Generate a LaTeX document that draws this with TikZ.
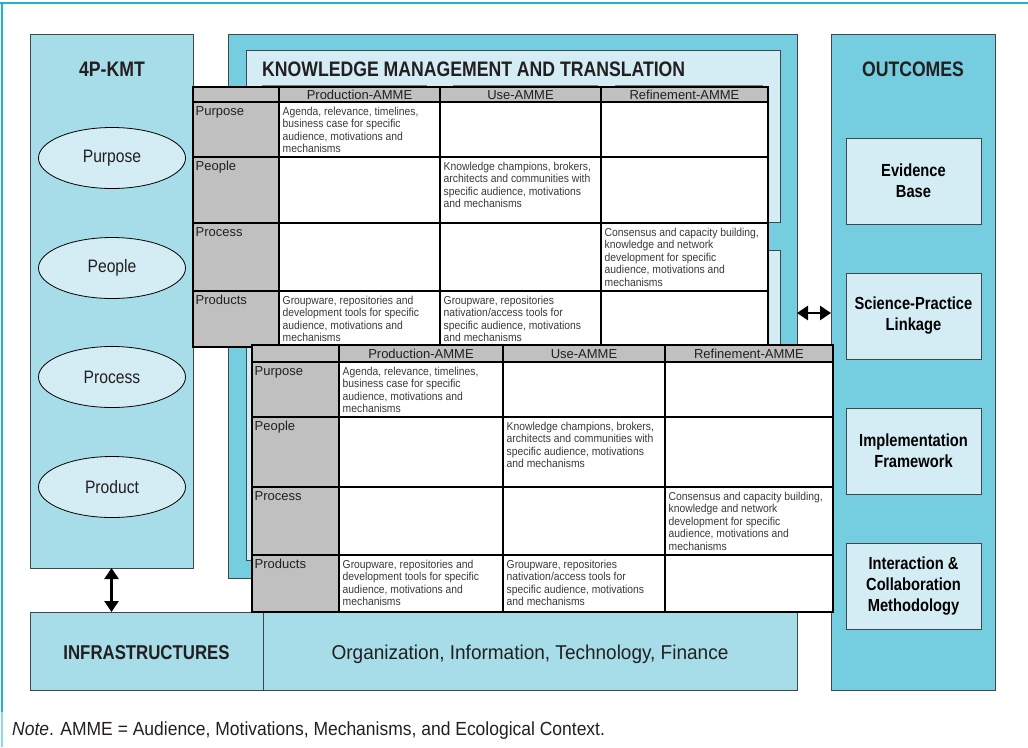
\documentclass[tikz,border=0pt]{standalone}
\usepackage{fontspec}
\setmainfont{Liberation Sans}
\newfontfamily\fbold{Liberation Sans}[FakeStretch=0.84]
\newfontfamily\fcell{Liberation Sans}[FakeStretch=0.9]
\newfontfamily\fell{Liberation Sans}[FakeStretch=0.87]
\newfontfamily\fnote{Liberation Sans}[FakeStretch=0.92]
\newfontfamily\forg{Liberation Sans}[FakeStretch=0.95]
\usetikzlibrary{arrows.meta,shapes.geometric}
\definecolor{frameC}{HTML}{1AB6CF}
\definecolor{frameL}{HTML}{8FD9E6}
\definecolor{darkC}{HTML}{74CEDF}
\definecolor{midC}{HTML}{A6DDE8}
\definecolor{paleC}{HTML}{D4EDF4}
\definecolor{cellG}{HTML}{C0C0C0}
\definecolor{txt}{HTML}{231F20}
\definecolor{celltxt}{HTML}{3A3A3A}
\definecolor{edgeC}{HTML}{3E4749}
\tikzset{
  panel/.style={draw=edgeC, line width=0.9pt, anchor=north west, inner sep=0pt, outer sep=0pt},
  ttl/.style={font=\fbold\bfseries\fontsize{21}{24}\selectfont, text=txt, inner sep=0pt},
  ell/.style={ellipse, draw=black, line width=0.8pt, fill=paleC, minimum width=147pt, minimum height=61pt, inner sep=0pt, font=\fell\fontsize{18}{20}\selectfont, text=txt},
  obox/.style={draw=edgeC, line width=0.9pt, fill=paleC, minimum width=135pt, minimum height=86pt, inner sep=0pt, align=center, font=\fbold\bfseries\fontsize{17.5}{21}\selectfont, text=black},
  dbl/.style={line width=2.6pt, {Triangle[length=11pt,width=14pt]}-{Triangle[length=11pt,width=14pt]}},
  grid/.style={line width=1.8pt, black},
  hdr/.style={font=\fontsize{13}{15}\selectfont, text=txt, inner sep=0pt},
  rowlab/.style={anchor=north west, inner xsep=2.5pt, inner ysep=4pt, font=\fontsize{13}{15}\selectfont, text=txt},
  cell/.style={anchor=north west, inner xsep=3.5pt, inner ysep=4.5pt, align=left, font=\fcell\fontsize{11.5}{12.5}\selectfont, text=celltxt},
}
\newcommand\kmtab[1]{%
  \fill[white] (\xa,\ya) rectangle (\xe,\yf);
  \fill[cellG] (\xa,\ya) rectangle (\xe,\yb);
  \fill[cellG] (\xa,\yb) rectangle (\xb,\yf);
  \draw[grid] (\xa,\ya) rectangle (\xe,\yf);
  \foreach \v in {\xb,\xc,\xd} {\draw[grid] (\v,\ya) -- (\v,\yf);}
  \foreach \h in {\yb,\yc,\yd,\ye} {\draw[grid] (\xa,\h) -- (\xe,\h);}
  \node[hdr] (#1h1) at ({(\xb+\xc)/2},{(\ya+\yb)/2+0.5}) {Production-AMME};
  \node[hdr] (#1h2) at ({(\xc+\xd)/2},{(\ya+\yb)/2+0.5}) {Use-AMME};
  \node[hdr] (#1h3) at ({(\xd+\xe)/2},{(\ya+\yb)/2+0.5}) {Refinement-AMME};
  \node[rowlab] (#1r1) at (\xa,\yb) {Purpose};
  \node[rowlab] (#1r2) at (\xa,\yc) {People};
  \node[rowlab] (#1r3) at (\xa,\yd) {Process};
  \node[rowlab] (#1r4) at (\xa,\ye) {Products};
  \node[cell] (#1c11) at (\xb,\yb) {Agenda, relevance, timelines,\\business case for specific\\audience, motivations and\\mechanisms};
  \node[cell] (#1c22) at (\xc,\yc) {Knowledge champions, brokers,\\architects and communities with\\specific audience, motivations\\and mechanisms};
  \node[cell] (#1c33) at (\xd,\yd) {Consensus and capacity building,\\knowledge and network\\development for specific\\audience, motivations and\\mechanisms};
  \node[cell] (#1c41) at (\xb,\ye) {Groupware, repositories and\\development tools for specific\\audience, motivations and\\mechanisms};
  \node[cell] (#1c42) at (\xc,\ye) {Groupware, repositories\\nativation/access tools for\\specific audience, motivations\\and mechanisms};
}
\begin{document}
\begin{tikzpicture}[x=1pt,y=-1pt]
\useasboundingbox (0,0) rectangle (1028,747);
% outer frame lines
\draw[frameC, line width=2pt] (0,3) -- (1028,3);
\draw[frameC, line width=2pt] (2,2) -- (2,712);
\draw[frameL, line width=2pt] (2,712) -- (2,747);
% 4P-KMT
\node[panel, fill=midC, minimum width=163pt, minimum height=534pt] (p4) at (30,34) {};
\node[ttl] (p4t) at (112,69) {4P-KMT};
\node[ell] (e1) at (112,158) {Purpose};
\node[ell] (e2) at (112,268) {People};
\node[ell] (e3) at (112,377) {Process};
\node[ell] (e4) at (112,487) {Product};
% KMT panel
\node[panel, fill=darkC, minimum width=569pt, minimum height=544pt] (kmt) at (228,34) {};
\node[panel, fill=paleC, minimum width=534pt, minimum height=172pt] (kin1) at (246,50) {};
\node[panel, fill=paleC, minimum width=534pt, minimum height=310pt] (kin2) at (246,250) {};
\node[ttl, anchor=west] (kmtt) at (262,69) {KNOWLEDGE MANAGEMENT AND TRANSLATION};
\draw[edgeC!70, line width=0.8pt] (262,85) -- (427,85) (453,85) -- (598,85) (615,85) -- (763,85);
% outcomes
\node[panel, fill=darkC, minimum width=164pt, minimum height=656pt] (out) at (831,34) {};
\node[ttl] (outt) at (913,69) {OUTCOMES};
\node[obox] (o1) at (913.5,181) {Evidence\\Base};
\node[obox] (o2) at (913.5,316) {Science-Practice\\Linkage};
\node[obox] (o3) at (913.5,451) {Implementation\\Framework};
\node[obox] (o4) at (913.5,586.5) {Interaction \&\\Collaboration\\Methodology};
% infrastructures
\node[panel, fill=midC, minimum width=233pt, minimum height=78pt] (infL) at (30,612) {};
\node[panel, fill=midC, minimum width=534pt, minimum height=78pt] (infR) at (263,612) {};
\node[inner sep=0pt, font=\fbold\bfseries\fontsize{20}{24}\selectfont, text=txt] (infLt) at ([yshift=-2pt]infL.center) {INFRASTRUCTURES};
\node[inner sep=0pt, font=\forg\fontsize{20}{24}\selectfont, text=txt] (infRt) at ([yshift=-3.5pt]infR.center) {Organization, Information, Technology, Finance};
% arrows
\coordinate (ay) at (0,313);
\draw[dbl] (kmt.east |- ay) -- (out.west |- ay);
\draw[dbl] (p4.south) -- (p4.south |- infL.north);
% table 1
\def\xa{193}\def\xb{279}\def\xc{440}\def\xd{601}\def\xe{768}
\def\ya{87}\def\yb{102}\def\yc{157}\def\yd{223}\def\ye{291}\def\yf{347}
\kmtab{ta}
% table 2
\def\xa{252}\def\xb{339}\def\xc{503}\def\xd{665}\def\xe{833}
\def\ya{345}\def\yb{362}\def\yc{417}\def\yd{487}\def\ye{555}\def\yf{612}
\kmtab{tb}
% note
\node[anchor=west, inner sep=0pt, font=\fnote\fontsize{19}{22}\selectfont, text=txt] (note) at (12,731) {\textit{Note}. AMME = Audience, Motivations, Mechanisms, and Ecological Context.};
\end{tikzpicture}
\end{document}
